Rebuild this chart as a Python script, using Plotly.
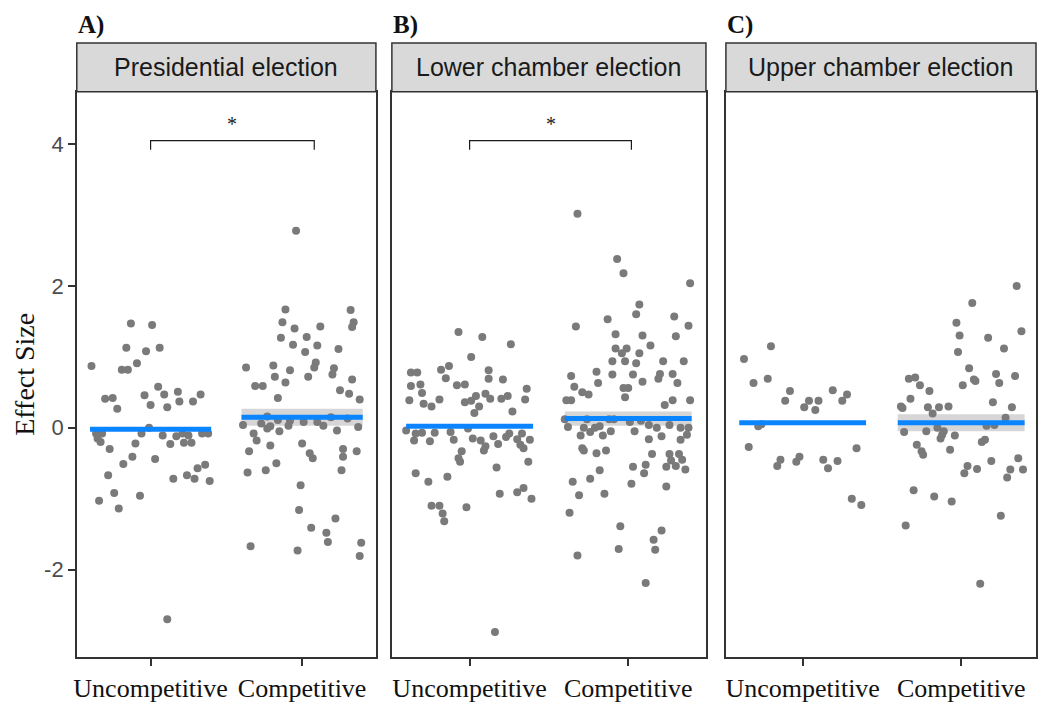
import plotly.graph_objects as go

# ---------------- data ----------------
categories = ["Uncompetitive", "Competitive"]
panel_titles = ["Presidential election", "Lower chamber election", "Upper chamber election"]
panel_tags = ["A)", "B)", "C)"]

# Panel A
A_unc_y = [1.47,1.45,1.13,1.08,1.13,0.87,0.82,0.82,0.91,0.58,0.41,0.42,0.27,0.46,0.47,0.51,0.47,0.32,0.29,0.37,
           0.37,-0.08,-0.08,-0.15,-0.20,0.0,-0.08,-0.11,-0.12,-0.08,-0.11,-0.08,-0.08,-0.23,-0.21,-0.21,-0.22,-0.30,-0.41,-0.51,
           -0.44,-0.67,-0.52,-0.57,-0.72,-0.67,-0.72,-0.75,-0.92,-0.96,-1.03,-1.14,-2.70]
A_unc_j = [-0.13,0.01,-0.16,-0.03,0.06,-0.39,-0.19,-0.15,-0.09,0.05,-0.30,-0.25,-0.22,-0.04,0.09,0.18,0.33,0.0,0.11,0.19,
           0.28,-0.36,-0.32,-0.35,-0.33,-0.01,-0.06,0.08,0.17,0.21,0.25,0.34,0.38,0.13,0.22,0.27,-0.10,-0.27,-0.12,-0.18,
           0.03,-0.28,0.36,0.31,0.15,0.24,0.29,0.39,-0.24,-0.07,-0.34,-0.21,0.11]
A_com_y = [2.78,1.67,1.66,1.49,1.49,1.42,1.40,1.43,1.27,1.28,1.17,1.16,1.07,1.11,0.92,0.85,0.84,0.75,0.85,0.88,
           0.81,0.72,0.72,0.68,0.59,0.59,0.64,0.53,0.48,0.40,0.42,0.04,0.16,0.11,0.06,-0.01,0.02,0.03,0.10,0.08,
           0.08,0.03,0.15,-0.04,0.13,0.01,-0.05,-0.08,-0.18,-0.25,-0.33,-0.22,-0.36,-0.43,-0.30,-0.41,-0.33,-0.50,-0.60,-0.63,
           -0.60,-0.81,-1.16,-1.28,-1.41,-1.48,-1.61,-1.67,-1.73,-1.62,-1.81]
A_com_j = [-0.04,-0.11,0.32,-0.13,0.34,0.33,-0.05,0.12,-0.14,0.03,-0.06,0.10,0.02,0.24,0.09,0.08,0.21,0.20,-0.37,-0.19,
           -0.08,-0.18,0.04,0.33,-0.31,-0.26,-0.11,0.25,0.31,0.38,-0.16,-0.39,-0.23,-0.16,-0.27,-0.23,-0.21,-0.09,-0.08,0.01,
           0.10,0.14,0.19,0.23,0.30,0.37,-0.15,-0.32,-0.30,-0.21,-0.35,0.0,0.05,0.07,0.27,0.27,0.36,-0.17,-0.24,-0.36,
           0.26,-0.01,-0.02,0.22,0.06,0.16,0.17,-0.34,-0.03,0.39,0.38]

# Panel B
B_unc_y = [1.35,1.28,1.18,1.00,0.78,0.78,0.82,0.87,0.70,0.81,0.69,0.68,0.59,0.61,0.49,0.60,0.61,0.55,0.39,0.34,
           0.30,0.40,0.36,0.38,0.45,0.48,0.41,0.41,0.45,0.40,0.30,0.21,0.23,-0.04,-0.08,-0.07,-0.18,-0.07,-0.19,-0.06,
           -0.17,-0.01,-0.15,-0.18,-0.12,-0.26,-0.32,-0.23,-0.13,-0.08,-0.16,-0.08,-0.24,-0.29,-0.17,-0.33,-0.43,-0.48,-0.48,-0.56,
           -0.64,-0.76,-0.69,-0.93,-0.91,-0.85,-1.00,-1.10,-1.10,-1.12,-1.21,-1.32,-2.88]
B_unc_j = [-0.07,0.08,0.26,0.01,-0.37,-0.33,-0.18,-0.13,-0.15,0.12,0.12,0.21,-0.37,-0.31,-0.30,-0.08,-0.03,0.36,-0.38,-0.29,
           -0.24,-0.19,-0.03,0.01,0.04,0.10,0.13,0.20,0.24,0.35,0.06,0.03,0.27,-0.40,-0.34,-0.30,-0.35,-0.22,-0.25,-0.12,
           -0.10,-0.01,0.02,0.07,0.15,0.10,0.09,0.18,0.23,0.25,0.30,0.33,0.32,0.34,0.38,-0.05,-0.07,-0.06,0.37,0.17,
           -0.34,-0.26,-0.14,0.19,0.30,0.34,0.39,-0.24,-0.19,-0.02,-0.17,-0.16,0.16]
B_com_y = [3.02,2.38,2.18,2.04,1.74,1.60,1.53,1.57,1.43,1.44,1.32,1.30,1.29,1.16,1.12,1.12,1.05,1.05,0.94,0.94,
           0.91,0.94,0.94,0.79,0.75,0.75,0.76,0.69,0.76,0.63,0.65,0.63,0.73,0.58,0.50,0.47,0.56,0.56,0.43,0.39,
           0.39,0.39,0.39,0.32,0.12,0.01,0.12,0.00,-0.06,0.00,0.02,-0.11,0.12,-0.05,0.12,0.08,-0.05,0.10,0.04,0.00,
           0.04,0.00,0.00,-0.10,-0.11,-0.12,-0.16,-0.17,-0.29,-0.32,-0.36,-0.32,-0.37,-0.37,-0.37,-0.46,-0.45,-0.52,-0.55,-0.54,
           -0.59,-0.55,-0.60,-0.64,-0.72,-0.76,-0.79,-0.83,-0.95,-0.93,-1.20,-1.39,-1.45,-1.58,-1.71,-1.72,-1.80,-2.19]
B_com_j = [-0.32,-0.07,-0.03,0.39,0.07,0.05,-0.13,0.29,-0.33,0.38,-0.08,0.09,0.30,0.14,-0.08,-0.01,-0.04,0.07,-0.10,-0.02,
           0.05,0.22,0.35,-0.20,-0.10,0.03,0.20,0.19,0.28,-0.19,0.09,0.31,-0.36,-0.34,-0.29,-0.25,-0.03,0.00,-0.02,-0.39,
           -0.36,0.28,0.39,0.23,-0.40,-0.38,-0.26,-0.28,-0.24,-0.21,-0.18,-0.16,-0.12,-0.11,-0.09,0.01,0.04,0.08,0.13,0.18,
           0.26,0.33,0.38,0.37,-0.30,0.21,0.13,0.33,-0.29,-0.28,-0.20,-0.14,0.15,0.26,0.32,0.27,0.34,0.11,0.24,0.30,
           0.36,0.03,-0.18,0.10,-0.24,-0.35,0.02,0.24,-0.31,-0.15,-0.37,-0.05,0.21,0.16,-0.06,0.17,-0.32,0.11]

# Panel C
C_unc_y = [0.97,1.15,0.63,0.69,0.52,0.38,0.38,0.38,0.29,0.25,0.53,0.47,0.38,0.02,0.05,-0.27,-0.29,-0.45,-0.54,-0.41,
           -0.48,-0.45,-0.57,-0.47,-1.00,-1.09]
C_unc_j = [-0.37,-0.20,-0.31,-0.22,-0.08,-0.11,0.04,0.10,0.01,0.08,0.19,0.28,0.25,-0.28,-0.26,-0.34,0.34,-0.14,-0.16,-0.02,
           -0.04,0.13,0.16,0.22,0.31,0.37]
C_com_y = [2.00,1.76,1.48,1.30,1.36,1.27,1.12,1.07,0.84,0.60,0.68,0.66,0.76,0.63,0.73,0.69,0.71,0.60,0.52,0.41,
           0.30,0.28,0.29,0.29,0.30,0.20,0.36,0.29,0.14,0.03,0.04,-0.06,-0.05,0.00,-0.05,-0.10,-0.15,-0.11,-0.17,-0.20,
           -0.24,-0.33,-0.38,-0.31,-0.54,-0.64,-0.58,-0.47,-0.43,-0.59,-0.59,-0.70,-0.88,-0.97,-1.04,-1.24,-1.38,-2.20]
C_com_j = [0.35,0.07,-0.03,-0.01,0.38,0.17,0.27,-0.02,0.05,0.01,0.08,0.09,0.22,0.24,0.34,-0.33,-0.29,-0.26,-0.20,-0.32,
           -0.38,-0.37,-0.21,-0.14,-0.08,-0.18,0.20,0.32,0.28,0.16,0.21,-0.36,-0.22,-0.15,-0.11,-0.12,-0.13,-0.04,0.15,0.13,
           -0.28,-0.25,-0.24,-0.07,0.04,0.02,0.10,0.19,0.36,0.31,0.39,0.29,-0.30,-0.17,-0.06,0.25,-0.35,0.12]

# group means and confidence half-widths (Uncompetitive, Competitive)
means = [[-0.02, 0.15], [0.02, 0.13], [0.07, 0.07]]
ci_half = [[0.0, 0.12], [0.0, 0.10], [0.0, 0.12]]

# significance brackets: (x_start, x_end, y_level, label)
brackets = [(1.0, 2.08, 4.05, "*"), (1.0, 2.02, 4.05, "*"), None]

y_ticks = [-2, 0, 2, 4]

points = [
    [(A_unc_j, A_unc_y), (A_com_j, A_com_y)],
    [(B_unc_j, B_unc_y), (B_com_j, B_com_y)],
    [(C_unc_j, C_unc_y), (C_com_j, C_com_y)],
]

# ---------------- layout helpers ----------------
W, H = 1039, 703
def fx(p):
    return p / W
def fy(p):
    return 1 - p / H

panel_px = [(74, 374), (390, 705), (725, 1036)]
x_ranges = [[0.513, 2.487], [0.51, 2.49], [0.516, 2.472]]
plot_top, plot_bot = 92, 659
strip_top = 43
y_range = [-3.235, 4.74]

DOT = "#7a7a7a"
BLUE = "#0a84ff"
BAND = "#d6d6d6"
EDGE = "#333333"

fig = go.Figure()
shapes = []
annotations = []

for i in range(3):
    xa = "x" if i == 0 else f"x{i+1}"
    ya = "y" if i == 0 else f"y{i+1}"
    # CI bands
    for c in range(2):
        pos = c + 1
        m = means[i][c]
        h = ci_half[i][c]
        if h > 0:
            fig.add_trace(go.Scatter(
                x=[pos - 0.4, pos + 0.4, pos + 0.4, pos - 0.4, pos - 0.4],
                y=[m - h, m - h, m + h, m + h, m - h],
                fill="toself", fillcolor=BAND, line=dict(width=0),
                mode="lines", hoverinfo="skip", showlegend=False,
                xaxis=xa, yaxis=ya))
    # points
    for c in range(2):
        pos = c + 1
        jit, vals = points[i][c]
        fig.add_trace(go.Scatter(
            x=[pos + j for j in jit], y=vals, mode="markers",
            marker=dict(color=DOT, size=8, line=dict(width=0)),
            showlegend=False, xaxis=xa, yaxis=ya))
    # mean lines
    for c in range(2):
        pos = c + 1
        m = means[i][c]
        fig.add_trace(go.Scatter(
            x=[pos - 0.4, pos + 0.4], y=[m, m], mode="lines",
            line=dict(color=BLUE, width=5), showlegend=False,
            xaxis=xa, yaxis=ya))
    # brackets
    br = brackets[i]
    if br is not None:
        x0, x1, yl, lab = br
        fig.add_trace(go.Scatter(
            x=[x0, x0, x1, x1], y=[yl - 0.13, yl, yl, yl - 0.13], mode="lines",
            line=dict(color="#1a1a1a", width=1.2), showlegend=False,
            xaxis=xa, yaxis=ya))
        annotations.append(dict(x=(x0 + x1) / 2, y=yl + 0.05, xref=xa, yref=ya,
                                text=lab, showarrow=False, yanchor="bottom",
                                font=dict(family="Liberation Serif", size=20, color="#1a1a1a")))

    # strip
    l, r = panel_px[i]
    shapes.append(dict(type="rect", xref="paper", yref="paper",
                       x0=fx(l), x1=fx(r), y0=fy(plot_top), y1=fy(strip_top),
                       fillcolor="#d9d9d9", line=dict(color=EDGE, width=1.5), layer="above"))
    annotations.append(dict(x=fx((l + r) / 2), y=fy((strip_top + plot_top) / 2),
                            xref="paper", yref="paper", text=panel_titles[i],
                            showarrow=False, xanchor="center", yanchor="middle",
                            font=dict(family="Liberation Sans", size=25, color="#1a1a1a")))
    annotations.append(dict(x=fx(l - 1), y=fy(25), xref="paper", yref="paper",
                            text=f"<b>{panel_tags[i]}</b>", showarrow=False,
                            xanchor="left", yanchor="middle",
                            font=dict(family="Liberation Serif", size=25, color="#111111")))

    xaxis = dict(domain=[fx(l), fx(r)], range=x_ranges[i],
                 tickvals=[1, 2], ticktext=categories,
                 showline=True, mirror=True, linecolor=EDGE, linewidth=1.5,
                 ticks="outside", ticklen=7, tickwidth=1.5, tickcolor=EDGE,
                 tickfont=dict(family="Liberation Serif", size=26, color="#111111"),
                 showgrid=False, zeroline=False, anchor=ya, fixedrange=True)
    yaxis = dict(domain=[fy(plot_bot), fy(plot_top)], range=y_range,
                 showline=True, mirror=True, linecolor=EDGE, linewidth=1.5,
                 showgrid=False, zeroline=False, anchor=xa, fixedrange=True)
    if i == 0:
        yaxis.update(tickvals=y_ticks, ticktext=[str(t) for t in y_ticks],
                     ticks="outside", ticklen=7, tickwidth=1.5, tickcolor=EDGE,
                     tickfont=dict(family="Liberation Sans", size=22, color="#4d4d4d"))
    else:
        yaxis.update(showticklabels=False, ticks="")
    key = "" if i == 0 else str(i + 1)
    fig.update_layout(**{f"xaxis{key}": xaxis, f"yaxis{key}": yaxis})

annotations.append(dict(x=fx(22), y=fy(375), xref="paper", yref="paper",
                        text="Effect Size", textangle=-90, showarrow=False,
                        xanchor="center", yanchor="middle",
                        font=dict(family="Liberation Serif", size=28, color="#111111")))

fig.update_layout(width=W, height=H, margin=dict(l=0, r=0, t=0, b=0),
                  paper_bgcolor="white", plot_bgcolor="white",
                  shapes=shapes, annotations=annotations, showlegend=False)

fig.write_html("out.html", config={"displayModeBar": False},
               post_script="document.body.style.margin='0px';document.body.style.overflow='hidden';")
